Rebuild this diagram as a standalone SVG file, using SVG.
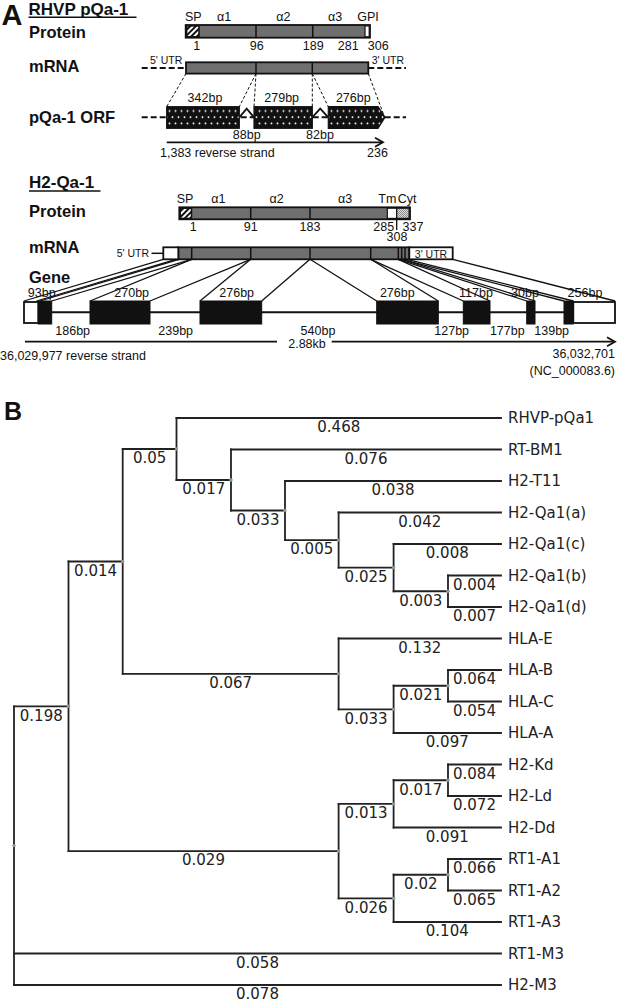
<svg xmlns="http://www.w3.org/2000/svg" width="617" height="1002" viewBox="0 0 617 1002">
<style>
text{font-family:"Liberation Sans",Arial,sans-serif;fill:#111}
.big{font-weight:bold;font-size:29px}
.ttl{font-weight:bold;font-size:17px}
.row{font-weight:bold;font-size:16.5px}
.lb{font-size:12.5px}
.sm{font-size:10.5px}
.m{text-anchor:middle}
.e{text-anchor:end}
.bar{fill:#6f6f6f;stroke:#111;stroke-width:1.8}
.wb{fill:#fff;stroke:#111;stroke-width:1.8}
.blk{fill:#111;stroke:#111;stroke-width:1}
.dv{stroke:#111;stroke-width:1.5}
.dash{stroke:#111;stroke-width:2;stroke-dasharray:6 3;fill:none}
.tdash{stroke:#111;stroke-width:1;stroke-dasharray:3 2;fill:none}
.cn{stroke:#111;stroke-width:1.3;fill:none}
.ln{stroke:#111;stroke-width:1.8;fill:none}
.tr text{font-family:"DejaVu Sans",Verdana,sans-serif;font-size:15px;fill:#222}
.br{stroke:#222;stroke-width:1.8;fill:none;stroke-linecap:square}
.nd{fill:#8c9a9a}
</style>
<defs>
<pattern id="dots" patternUnits="userSpaceOnUse" x="0" y="106.7" width="6" height="12.4">
<rect width="6" height="12.4" fill="#111"/>
<circle cx="1.5" cy="4.3" r="0.95" fill="#fff"/>
<circle cx="4.5" cy="10.5" r="0.95" fill="#fff"/>
</pattern>
<pattern id="hatch" patternUnits="userSpaceOnUse" width="4" height="4" patternTransform="rotate(45)">
<rect width="4" height="4" fill="#fff"/>
<rect width="2" height="4" fill="#111"/>
</pattern>
<pattern id="chk" patternUnits="userSpaceOnUse" width="2" height="2">
<rect width="2" height="2" fill="#e0e0e0"/>
<rect width="1" height="1" fill="#888"/>
<rect x="1" y="1" width="1" height="1" fill="#888"/>
</pattern>
</defs>

<g id="panelA">
<text class="big" x="1.5" y="25">A</text>

<g id="rhvp-title">
<text class="ttl" x="28.5" y="14.5">RHVP pQa-1</text>
<line x1="28.5" y1="17.3" x2="136.5" y2="17.3" stroke="#111" stroke-width="1.5"/>
</g>
<text class="row" x="29" y="38">Protein</text>
<text class="row" x="29" y="71.5">mRNA</text>
<text class="row" x="29" y="122.5">pQa-1 ORF</text>

<g id="rhvp-protein">
<rect class="bar" x="185.7" y="25" width="184.3" height="12.7"/>
<rect x="186.6" y="25.9" width="12.4" height="10.9" fill="url(#hatch)" stroke="#111" stroke-width="1.5"/>
<rect x="365" y="25.9" width="4.2" height="10.9" fill="#fff" stroke="#111" stroke-width="1.2"/>
<line class="dv" x1="256" y1="25" x2="256" y2="37.7"/>
<line class="dv" x1="312.7" y1="25" x2="312.7" y2="37.7"/>
<text class="lb m" x="193.3" y="20.5">SP</text>
<text class="lb m" x="224" y="20.5">α1</text>
<text class="lb m" x="283.3" y="20.5">α2</text>
<text class="lb m" x="335" y="20.5">α3</text>
<text class="lb m" x="368" y="20.5">GPI</text>
<text class="lb m" x="196.7" y="50">1</text>
<text class="lb m" x="256.7" y="50">96</text>
<text class="lb m" x="313.3" y="50">189</text>
<text class="lb m" x="348.3" y="50">281</text>
<text class="lb m" x="378.3" y="50">306</text>
</g>

<g id="rhvp-mrna">
<line class="dash" x1="141.7" y1="68" x2="186" y2="68"/>
<line class="dash" x1="368.3" y1="68" x2="406" y2="68"/>
<rect class="bar" x="186" y="62.3" width="182.3" height="11.3"/>
<line class="dv" x1="256" y1="62.3" x2="256" y2="73.6"/>
<line class="dv" x1="312.3" y1="62.3" x2="312.3" y2="73.6"/>
<text class="sm" x="150" y="64.3">5' UTR</text>
<text class="sm" x="371.7" y="64.3">3' UTR</text>
</g>

<g id="rhvp-orf">
<line class="dash" x1="141.7" y1="117.3" x2="406" y2="117.3"/>
<rect x="166.7" y="106.7" width="72.6" height="21.6" fill="url(#dots)" stroke="#111" stroke-width="1.2"/>
<rect x="254" y="106.7" width="58.3" height="21.6" fill="url(#dots)" stroke="#111" stroke-width="1.2"/>
<polygon points="328.3,106.7 378,106.7 385,117.3 378,128.3 328.3,128.3" fill="url(#dots)" stroke="#111" stroke-width="1.2"/>
<polyline class="ln" points="239.3,117.3 246.7,108.6 254,117.3" stroke-width="1.5"/>
<polyline class="ln" points="312.3,117.3 320.2,108.6 328.3,117.3" stroke-width="1.5"/>
<text class="lb m" x="205" y="102.3">342bp</text>
<text class="lb m" x="281.7" y="102.3">279bp</text>
<text class="lb m" x="353.3" y="102.3">276bp</text>
<text class="lb m" x="246.7" y="138.5">88bp</text>
<text class="lb m" x="320" y="138.5">82bp</text>
<line class="ln" x1="166.7" y1="142.3" x2="382" y2="142.3"/>
<polyline class="ln" points="375,137.8 383,142.3 375,146.8"/>
<text class="lb" x="160" y="157">1,383 reverse strand</text>
<text class="lb m" x="377.5" y="157">236</text>
</g>

<g id="rhvp-connectors">
<line class="tdash" x1="186" y1="73.6" x2="166.7" y2="106.7"/>
<line class="tdash" x1="256" y1="73.6" x2="239.3" y2="106.7"/>
<line class="tdash" x1="256" y1="73.6" x2="254" y2="106.7"/>
<line class="tdash" x1="312.3" y1="73.6" x2="312.3" y2="106.7"/>
<line class="tdash" x1="312.3" y1="73.6" x2="328.3" y2="106.7"/>
<line class="tdash" x1="368.3" y1="73.6" x2="384" y2="115.5"/>
</g>

<g id="h2-title">
<text class="ttl" x="29" y="188">H2-Qa-1</text>
<line x1="29" y1="191" x2="100.5" y2="191" stroke="#111" stroke-width="1.5"/>
</g>
<text class="row" x="29" y="216.7">Protein</text>
<text class="row" x="29" y="252.7">mRNA</text>
<text class="row" x="29" y="282.7">Gene</text>

<g id="h2-protein">
<rect class="bar" x="179.3" y="207.3" width="230.7" height="12"/>
<rect x="180.2" y="208.2" width="11.3" height="10.2" fill="url(#hatch)" stroke="#111" stroke-width="1.5"/>
<line class="dv" x1="250.7" y1="207.3" x2="250.7" y2="219.3"/>
<line class="dv" x1="310" y1="207.3" x2="310" y2="219.3"/>
<rect x="387.3" y="208.2" width="9.4" height="10.2" fill="#fff" stroke="#111" stroke-width="1.2"/>
<rect x="396.7" y="208.2" width="12.4" height="10.2" fill="url(#chk)" stroke="#111" stroke-width="1.2"/>
<text class="lb m" x="185" y="203.3">SP</text>
<text class="lb m" x="218.3" y="203.3">α1</text>
<text class="lb m" x="276.7" y="203.3">α2</text>
<text class="lb m" x="345" y="203.3">α3</text>
<text class="lb m" x="387.3" y="203.3">Tm</text>
<text class="lb m" x="407" y="203.3">Cyt</text>
<text class="lb m" x="193.3" y="230.5">1</text>
<text class="lb m" x="250.7" y="230.5">91</text>
<text class="lb m" x="310" y="230.5">183</text>
<text class="lb m" x="383.7" y="230.5">285</text>
<line x1="396.7" y1="220" x2="396.7" y2="230" stroke="#111" stroke-width="1.3"/>
<text class="lb m" x="413" y="230.5">337</text>
<text class="lb m" x="397" y="241">308</text>
</g>

<g id="h2-mrna">
<text class="sm" x="116.7" y="257">5' UTR</text>
<line x1="151.5" y1="253.3" x2="163.3" y2="253.3" stroke="#111" stroke-width="1.5"/>
<rect class="bar" x="178.3" y="247.3" width="231" height="12"/>
<rect class="wb" x="163.3" y="247.3" width="15" height="12"/>
<line class="dv" x1="191.7" y1="247.3" x2="191.7" y2="259.3"/>
<line class="dv" x1="250.7" y1="247.3" x2="250.7" y2="259.3"/>
<line class="dv" x1="310" y1="247.3" x2="310" y2="259.3"/>
<line class="dv" x1="370.7" y1="247.3" x2="370.7" y2="259.3"/>
<line class="dv" x1="398.3" y1="247.3" x2="398.3" y2="259.3"/>
<line class="dv" x1="401.7" y1="247.3" x2="401.7" y2="259.3"/>
<line class="dv" x1="405" y1="247.3" x2="405" y2="259.3"/>
<rect class="wb" x="409.3" y="247.3" width="43.4" height="12"/>
<text class="sm m" x="431" y="257.5">3' UTR</text>
</g>

<g id="h2-gene">
<line x1="51.7" y1="312.3" x2="564" y2="312.3" stroke="#111" stroke-width="2"/>
<rect class="wb" x="24" y="302" width="14.3" height="21"/>
<rect class="blk" x="38.3" y="301" width="13.4" height="23"/>
<rect class="blk" x="90" y="301" width="60" height="23"/>
<rect class="blk" x="200" y="301" width="61.7" height="23"/>
<rect class="blk" x="376.7" y="301" width="61.6" height="23"/>
<rect class="blk" x="463.3" y="301" width="26.7" height="23"/>
<rect class="blk" x="526.7" y="301" width="8.3" height="23"/>
<rect class="blk" x="564" y="301" width="9.3" height="23"/>
<rect class="wb" x="573.3" y="302" width="41.7" height="21"/>
<text class="lb m" x="41.7" y="297">93bp</text>
<text class="lb m" x="131.7" y="297">270bp</text>
<text class="lb m" x="236.7" y="297">276bp</text>
<text class="lb m" x="397.3" y="297">276bp</text>
<text class="lb m" x="476" y="297">117bp</text>
<text class="lb m" x="525" y="297">30bp</text>
<text class="lb m" x="585" y="297">256bp</text>
<text class="lb m" x="72.7" y="335">186bp</text>
<text class="lb m" x="175.7" y="335">239bp</text>
<text class="lb m" x="318" y="334.5">540bp</text>
<text class="lb m" x="451.7" y="335">127bp</text>
<text class="lb m" x="507.3" y="335">177bp</text>
<text class="lb m" x="551.7" y="335">139bp</text>
<text class="lb m" x="307" y="347.5">2.88kb</text>
<line class="ln" x1="25" y1="341.7" x2="277" y2="341.7"/>
<line class="ln" x1="331.7" y1="341.7" x2="614" y2="341.7"/>
<polyline class="ln" points="607,337.2 615,341.7 607,346.2"/>
<text class="lb" x="0" y="360">36,029,977 reverse strand</text>
<text class="lb e" x="615" y="358.3">36,032,701</text>
<text class="lb e" x="615" y="375">(NC_000083.6)</text>
</g>

<g id="h2-connectors">
<line class="cn" x1="163.3" y1="259.3" x2="24" y2="301"/>
<line class="cn" x1="176" y1="259.3" x2="36.5" y2="301"/>
<line class="cn" x1="179" y1="259.3" x2="40" y2="301"/>
<line class="cn" x1="191.7" y1="259.3" x2="51.7" y2="301"/>
<line class="cn" x1="191.7" y1="259.3" x2="90" y2="301"/>
<line class="cn" x1="250.7" y1="259.3" x2="150" y2="301"/>
<line class="cn" x1="250.7" y1="259.3" x2="200" y2="301"/>
<line class="cn" x1="310" y1="259.3" x2="261.7" y2="301"/>
<line class="cn" x1="310" y1="259.3" x2="376.7" y2="301"/>
<line class="cn" x1="370.7" y1="259.3" x2="438.3" y2="301"/>
<line class="cn" x1="370.7" y1="259.3" x2="463.3" y2="301"/>
<line class="cn" x1="398.3" y1="259.3" x2="490" y2="301"/>
<line class="cn" x1="398.3" y1="259.3" x2="526.7" y2="301"/>
<line class="cn" x1="401.7" y1="259.3" x2="535" y2="301"/>
<line class="cn" x1="401.7" y1="259.3" x2="564" y2="301"/>
<line class="cn" x1="407" y1="259.3" x2="573.3" y2="301"/>
<line class="cn" x1="452.7" y1="259.3" x2="615" y2="301"/>
</g>
</g>

<g id="panelB" class="tr">
<text x="4" y="420" style="font-family:'Liberation Sans',Arial,sans-serif;font-weight:bold;font-size:25px;fill:#111">B</text>

<g id="connectors">
<path class="br" d="M176.5,418H501 M231,449.5H501 M285,481H501 M338.6,512.5H501 M393.6,544H501 M448,575.5H501 M448,607H501 M338.6,638.5H501 M448,670H501 M448,701.5H501 M393.6,733H501 M448,764.5H501 M448,796H501 M393.6,827.5H501 M448,859H501 M448,890.5H501 M393.6,922H501 M14,953.5H501 M14,985H501"/>
<path class="br" d="M176.5,480H231 M231,510.5H285 M285,540.1H338.6 M338.6,567.6H393.6 M393.6,591.25H448 M122.7,449H176.5 M122.7,673.9H338.6 M338.6,709.4H393.6 M393.6,685.75H448 M68.5,561.5H122.7 M68.5,851.1H338.6 M338.6,803.9H393.6 M393.6,780.25H448 M338.6,898.4H393.6 M393.6,874.75H448 M14,706.3H68.5"/>
<path class="br" d="M176.5,418V480 M231,449.5V510.5 M285,481V540.1 M338.6,512.5V567.6 M393.6,544V591.25 M448,575.5V607 M122.7,449V673.9 M338.6,638.5V709.4 M393.6,685.75V733 M448,670V701.5 M68.5,561.5V851.1 M338.6,803.9V898.4 M393.6,780.25V827.5 M448,764.5V796 M393.6,874.75V922 M448,859V890.5 M14,706.3V985"/>
<g text-anchor="middle">
<text x="338.8" y="432.3">0.468</text>
<text x="149.6" y="463.3">0.05</text>
<text x="366" y="463.8">0.076</text>
<text x="203.8" y="494.3">0.017</text>
<text x="393" y="495.3">0.038</text>
<text x="258" y="524.8">0.033</text>
<text x="419.8" y="526.8">0.042</text>
<text x="311.8" y="554.4">0.005</text>
<text x="447.3" y="558.3">0.008</text>
<text x="366.1" y="581.9">0.025</text>
<text x="474.5" y="589.8">0.004</text>
<text x="420.8" y="605.5">0.003</text>
<text x="474.5" y="621.3">0.007</text>
<text x="95.6" y="575.8">0.014</text>
<text x="419.8" y="652.8">0.132</text>
<text x="230.7" y="688.2">0.067</text>
<text x="474.5" y="684.3">0.064</text>
<text x="420.8" y="700">0.021</text>
<text x="474.5" y="715.8">0.054</text>
<text x="366.1" y="723.7">0.033</text>
<text x="447.3" y="747.3">0.097</text>
<text x="41.3" y="720.6">0.198</text>
<text x="474.5" y="778.8">0.084</text>
<text x="420.8" y="794.5">0.017</text>
<text x="474.5" y="810.3">0.072</text>
<text x="366.1" y="818.2">0.013</text>
<text x="447.3" y="841.8">0.091</text>
<text x="203.5" y="865.4">0.029</text>
<text x="474.5" y="873.3">0.066</text>
<text x="420.8" y="889">0.02</text>
<text x="474.5" y="904.8">0.065</text>
<text x="366.1" y="912.7">0.026</text>
<text x="447.3" y="936.3">0.104</text>
<text x="257.5" y="967.8">0.058</text>
<text x="257.5" y="999.3">0.078</text>
</g>
</g>

<g id="internal-nodes">
<circle class="nd" cx="176.5" cy="449" r="1.7"/>
<circle class="nd" cx="231" cy="480" r="1.7"/>
<circle class="nd" cx="285" cy="510.5" r="1.7"/>
<circle class="nd" cx="338.6" cy="540.1" r="1.7"/>
<circle class="nd" cx="393.6" cy="567.6" r="1.7"/>
<circle class="nd" cx="448" cy="591.25" r="1.7"/>
<circle class="nd" cx="122.7" cy="561.5" r="1.7"/>
<circle class="nd" cx="338.6" cy="673.9" r="1.7"/>
<circle class="nd" cx="393.6" cy="709.4" r="1.7"/>
<circle class="nd" cx="448" cy="685.75" r="1.7"/>
<circle class="nd" cx="68.5" cy="706.3" r="1.7"/>
<circle class="nd" cx="338.6" cy="851.1" r="1.7"/>
<circle class="nd" cx="393.6" cy="803.9" r="1.7"/>
<circle class="nd" cx="448" cy="780.25" r="1.7"/>
<circle class="nd" cx="393.6" cy="898.4" r="1.7"/>
<circle class="nd" cx="448" cy="874.75" r="1.7"/>
<circle class="nd" cx="14" cy="845.6" r="1.7"/>
</g>

<g id="leaf-RHVP-pQa1"><text x="508" y="423.3">RHVP-pQa1</text></g>
<g id="leaf-RT-BM1"><text x="508" y="454.8">RT-BM1</text></g>
<g id="leaf-H2-T11"><text x="508" y="486.3">H2-T11</text></g>
<g id="leaf-H2-Qa1a"><text x="508" y="517.8">H2-Qa1(a)</text></g>
<g id="leaf-H2-Qa1c"><text x="508" y="549.3">H2-Qa1(c)</text></g>
<g id="leaf-H2-Qa1b"><text x="508" y="580.8">H2-Qa1(b)</text></g>
<g id="leaf-H2-Qa1d"><text x="508" y="612.3">H2-Qa1(d)</text></g>
<g id="leaf-HLA-E"><text x="508" y="643.8">HLA-E</text></g>
<g id="leaf-HLA-B"><text x="508" y="675.3">HLA-B</text></g>
<g id="leaf-HLA-C"><text x="508" y="706.8">HLA-C</text></g>
<g id="leaf-HLA-A"><text x="508" y="738.3">HLA-A</text></g>
<g id="leaf-H2-Kd"><text x="508" y="769.8">H2-Kd</text></g>
<g id="leaf-H2-Ld"><text x="508" y="801.3">H2-Ld</text></g>
<g id="leaf-H2-Dd"><text x="508" y="832.8">H2-Dd</text></g>
<g id="leaf-RT1-A1"><text x="508" y="864.3">RT1-A1</text></g>
<g id="leaf-RT1-A2"><text x="508" y="895.8">RT1-A2</text></g>
<g id="leaf-RT1-A3"><text x="508" y="927.3">RT1-A3</text></g>
<g id="leaf-RT1-M3"><text x="508" y="958.8">RT1-M3</text></g>
<g id="leaf-H2-M3"><text x="508" y="990.3">H2-M3</text></g>
</g>
</svg>
